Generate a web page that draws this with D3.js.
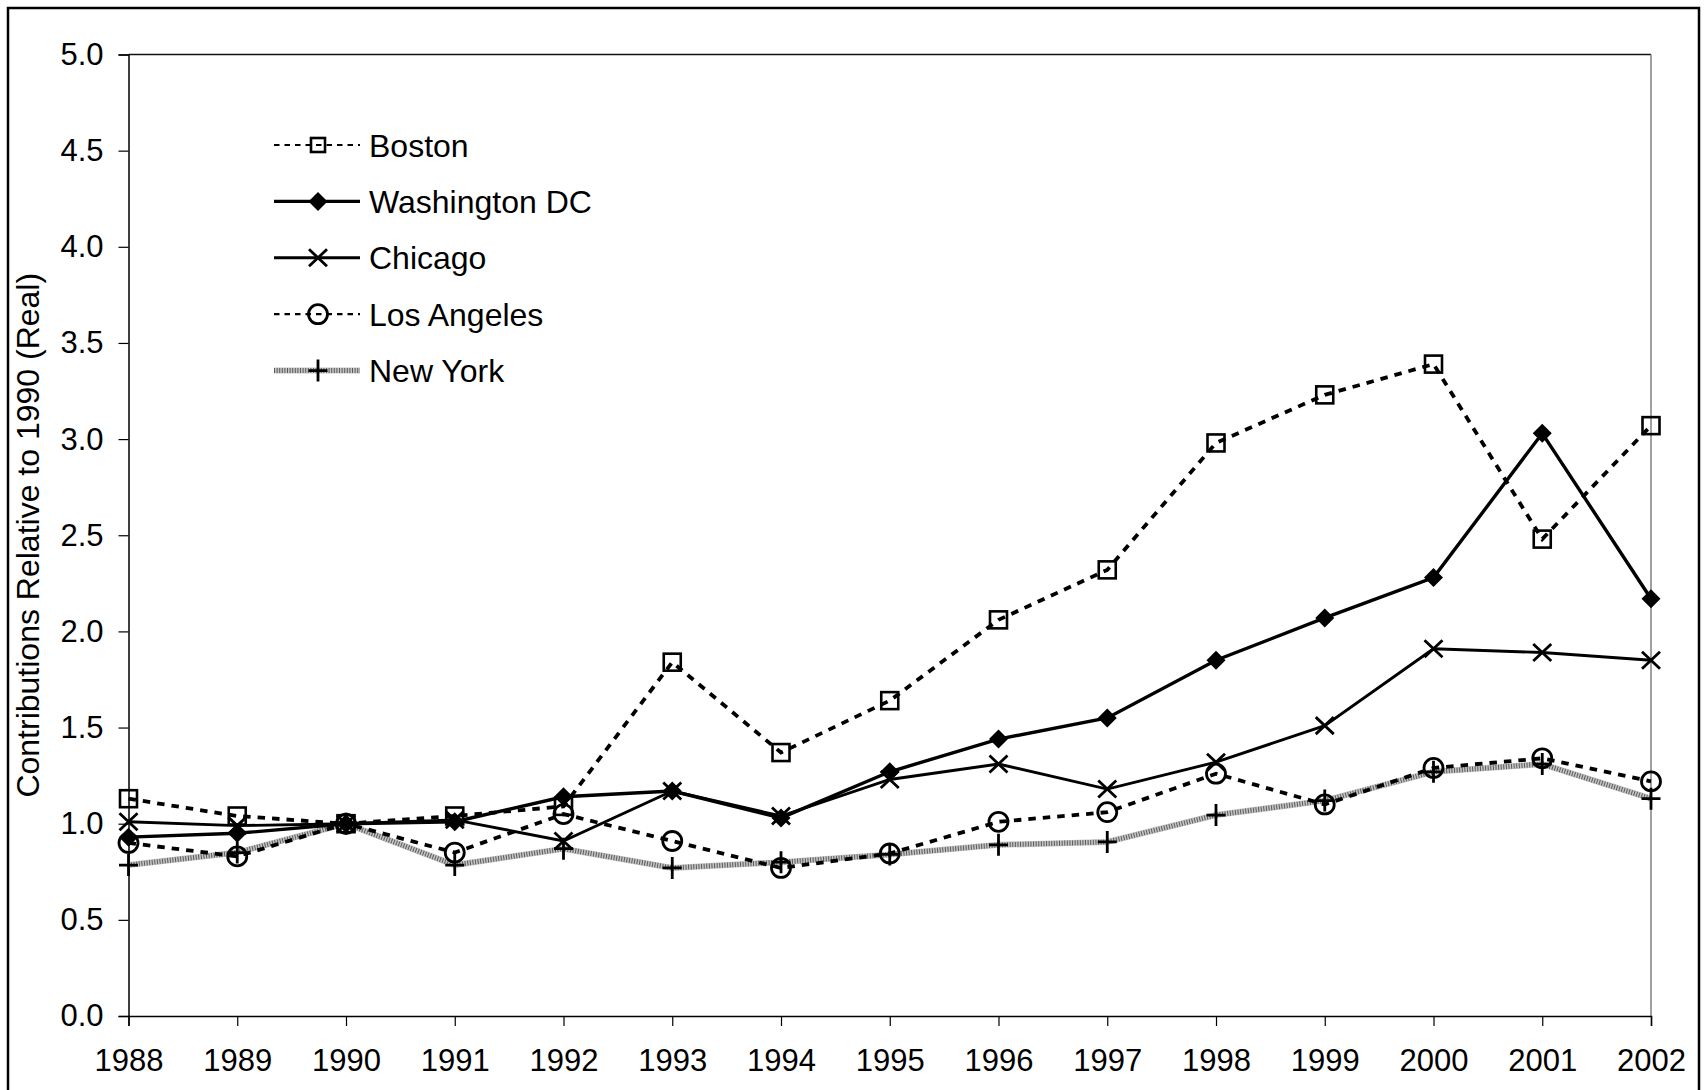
<!DOCTYPE html>
<html>
<head>
<meta charset="utf-8">
<script src="https://cdn.jsdelivr.net/npm/d3@7"></script>
<style>
  html, body { margin: 0; padding: 0; background: #fff; }
  svg text { font-family: "Liberation Sans", Arial, sans-serif; fill: #000; }
</style>
</head>
<body>
<svg id="chart" width="1707" height="1090"></svg>
<script>
// ---------- data ----------
const years = [1988, 1989, 1990, 1991, 1992, 1993, 1994, 1995, 1996, 1997, 1998, 1999, 2000, 2001, 2002];
const yTicks = [0.0, 0.5, 1.0, 1.5, 2.0, 2.5, 3.0, 3.5, 4.0, 4.5, 5.0];
const seriesNames = ["Boston", "Washington DC", "Chicago", "Los Angeles", "New York"];
const boston     = [1.13, 1.04, 1.00, 1.04, 1.09, 1.84, 1.37, 1.64, 2.06, 2.32, 2.98, 3.23, 3.39, 2.48, 3.07];
const washington = [0.93, 0.95, 1.00, 1.01, 1.14, 1.17, 1.03, 1.27, 1.44, 1.55, 1.85, 2.07, 2.28, 3.03, 2.17];
const chicago    = [1.01, 0.99, 1.00, 1.02, 0.91, 1.17, 1.04, 1.23, 1.31, 1.18, 1.32, 1.51, 1.91, 1.89, 1.85];
const losAngeles = [0.90, 0.83, 1.00, 0.85, 1.05, 0.91, 0.77, 0.845, 1.01, 1.06, 1.26, 1.10, 1.29, 1.34, 1.22];
const newYork    = [0.785, 0.85, 1.00, 0.785, 0.87, 0.77, 0.80, 0.84, 0.89, 0.905, 1.045, 1.12, 1.27, 1.31, 1.13];
const yTitle = "Contributions Relative to 1990 (Real)";

// ---------- layout ----------
const svg = d3.select("#chart");
const L = 128.5, R = 1651, T = 54.5, B = 1016;

const x = d3.scaleLinear().domain([years[0], years[years.length - 1]]).range([L, R]);
const y = d3.scaleLinear().domain([0, 5]).range([B, T]);

// outer frame
svg.append("rect").attr("x", 8).attr("y", 8).attr("width", 1691).attr("height", 1100)
  .attr("fill", "none").attr("stroke", "#000").attr("stroke-width", 2.5);

// plot area border (top & right)
svg.append("line").attr("x1", L).attr("x2", R).attr("y1", T).attr("y2", T)
  .attr("stroke", "#111").attr("stroke-width", 1.3);
svg.append("line").attr("x1", R).attr("x2", R).attr("y1", T).attr("y2", B)
  .attr("stroke", "#808080").attr("stroke-width", 1.5);

// axes
const yAxis = svg.append("g").attr("transform", `translate(${L},0)`)
  .call(d3.axisLeft(y).tickValues(yTicks).tickFormat(d3.format(".1f")).tickSize(10).tickPadding(15));
const xAxis = svg.append("g").attr("transform", `translate(0,${B})`)
  .call(d3.axisBottom(x).tickValues(years).tickFormat(d3.format("d")).tickSize(10).tickPadding(23));
[yAxis, xAxis].forEach(g => {
  g.selectAll("path.domain").attr("stroke", "#000").attr("stroke-width", 1.5);
  g.selectAll(".tick line").attr("stroke", "#000").attr("stroke-width", 1.2);
  g.selectAll(".tick text").style("font-size", "31px").attr("fill", "#000");
});

// y title
svg.append("text")
  .attr("transform", `translate(39,${(T + B) / 2}) rotate(-90)`)
  .attr("text-anchor", "middle")
  .style("font-size", "32px")
  .text(yTitle);

// ---------- series ----------
const series = [
  { name: seriesNames[4], values: newYork,    kind: "ny",        marker: "plus" },
  { name: seriesNames[3], values: losAngeles, kind: "dash",      marker: "circle" },
  { name: seriesNames[2], values: chicago,    kind: "solidThin", marker: "x" },
  { name: seriesNames[1], values: washington, kind: "solid",     marker: "diamond" },
  { name: seriesNames[0], values: boston,     kind: "dash",      marker: "square" }
];

const line = d3.line().x((d, i) => x(years[i])).y(d => y(d));

function styleLine(sel, kind, legend) {
  if (kind === "dash") {
    if (legend) sel.attr("stroke", "#000").attr("stroke-width", 2.2).attr("stroke-dasharray", "5.5,5");
    else sel.attr("stroke", "#000").attr("stroke-width", 3.8).attr("stroke-dasharray", "7.5,7");
  } else if (kind === "solid") {
    sel.attr("stroke", "#000").attr("stroke-width", 3.4);
  } else if (kind === "solidThin") {
    sel.attr("stroke", "#000").attr("stroke-width", 2.9);
  }
  sel.attr("fill", "none");
}

function drawPath(g, kind, d, legend) {
  if (kind === "ny") {
    g.append("path").attr("d", d).attr("fill", "none").attr("stroke", "#c4c4c4").attr("stroke-width", 6);
    g.append("path").attr("d", d).attr("fill", "none").attr("stroke", "#5a5a5a").attr("stroke-width", 5)
      .attr("stroke-dasharray", "1,1.6");
  } else {
    g.append("path").attr("d", d).call(styleLine, kind, legend);
  }
}

function drawMarker(g, type, cx, cy, legend) {
  const m = g.append("g").attr("transform", `translate(${cx},${cy})`);
  if (type === "square") {
    const h = legend ? 7 : 8.5;
    m.append("rect").attr("x", -h).attr("y", -h).attr("width", 2 * h).attr("height", 2 * h)
      .attr("fill", "none").attr("stroke", "#000").attr("stroke-width", 2.6);
  } else if (type === "diamond") {
    m.append("path").attr("d", "M0,-9.5L9.5,0L0,9.5L-9.5,0Z").attr("fill", "#000");
  } else if (type === "x") {
    m.append("path").attr("d", "M-9,-8.5L9,8.5M-9,8.5L9,-8.5").attr("stroke", "#000").attr("stroke-width", 2.8);
  } else if (type === "circle") {
    m.append("circle").attr("r", 9.5).attr("fill", "none").attr("stroke", "#000").attr("stroke-width", 2.8);
  } else if (type === "plus") {
    m.append("path").attr("d", "M-9.5,0L9.5,0M0,-11L0,11").attr("stroke", "#000").attr("stroke-width", 2.8);
  }
}

series.forEach(s => {
  const g = svg.append("g");
  drawPath(g, s.kind, line(s.values), false);
  s.values.forEach((v, i) => drawMarker(g, s.marker, x(years[i]), y(v), false));
});

// ---------- legend ----------
const legendOrder = [4, 3, 2, 1, 0]; // Boston, Washington, Chicago, LA, NY
const lx1 = 274, lx2 = 360, lmx = 318, ltx = 369, ly0 = 145, ldy = 56.4;
legendOrder.forEach((si, k) => {
  const s = series[si];
  const ly = ly0 + k * ldy;
  const g = svg.append("g");
  drawPath(g, s.kind, `M${lx1},${ly}L${lx2},${ly}`, true);
  drawMarker(g, s.marker, lmx, ly, true);
  g.append("text").attr("x", ltx).attr("y", ly).attr("dy", "0.36em")
    .style("font-size", "32px").text(s.name);
});
</script>
</body>
</html>
